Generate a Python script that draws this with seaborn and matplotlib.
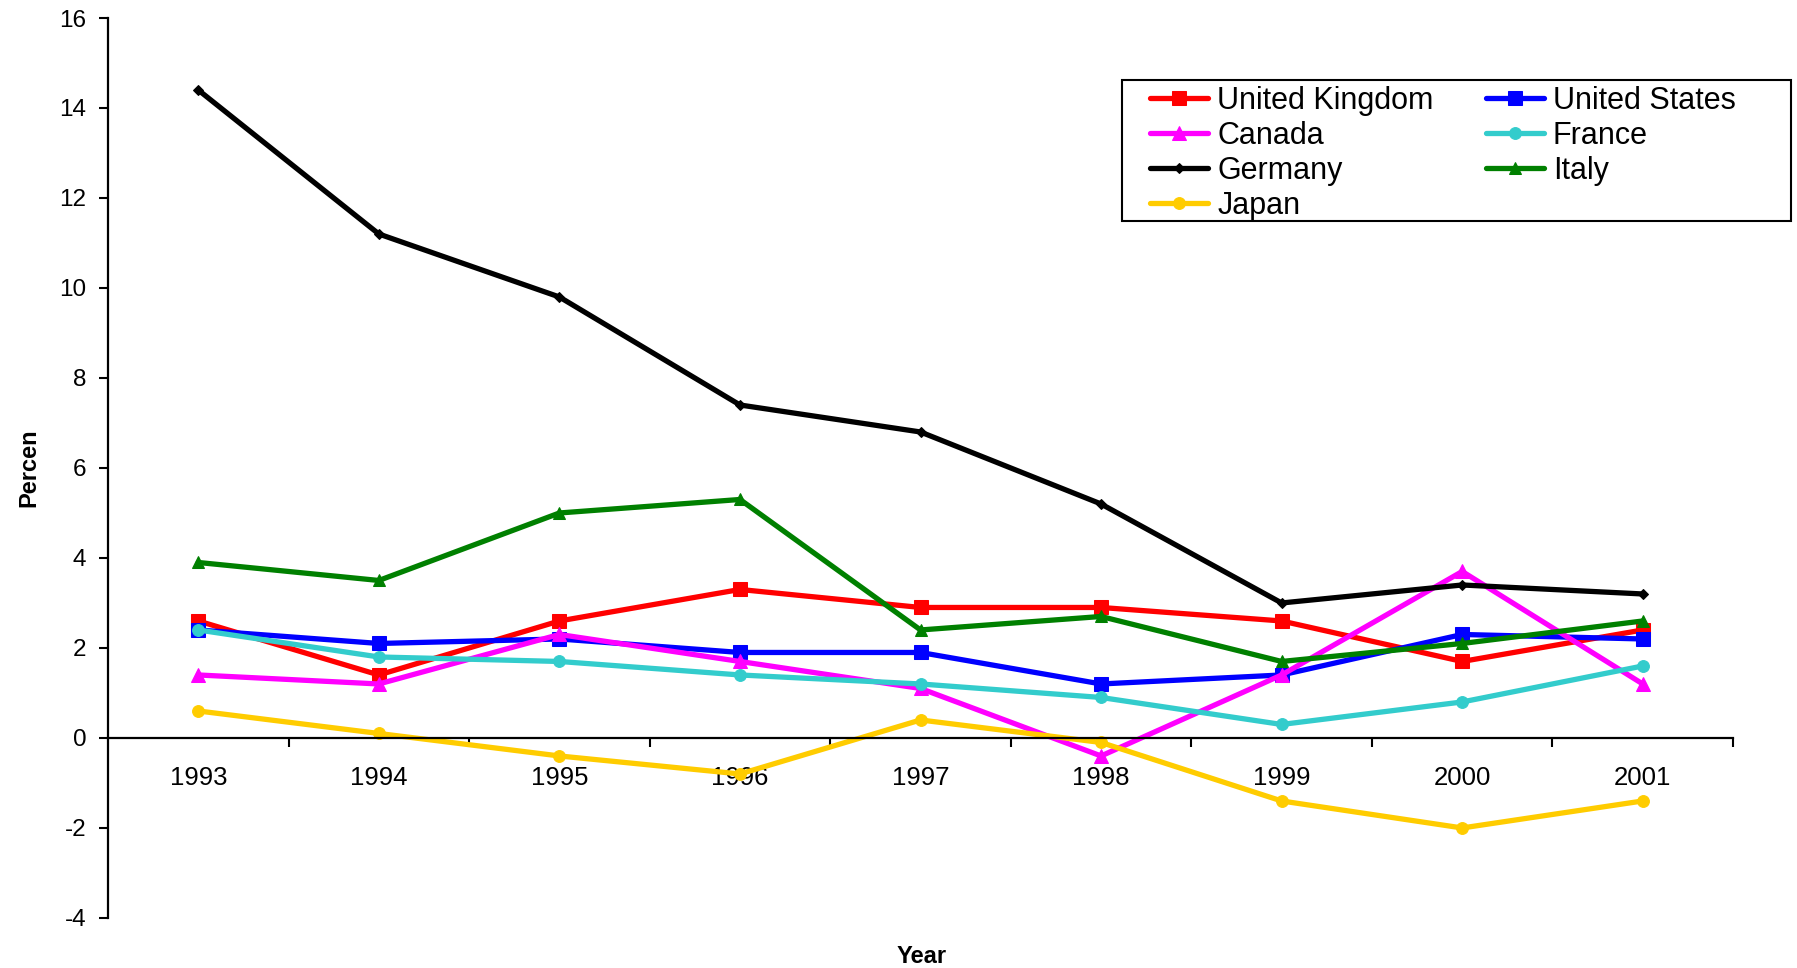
import matplotlib
matplotlib.use("Agg")
import matplotlib.pyplot as plt
from matplotlib.patches import Rectangle
import numpy as np
import pandas as pd
import seaborn as sns

# Annual values per country, in percent
years = ["1993", "1994", "1995", "1996", "1997", "1998", "1999", "2000", "2001"]
united_kingdom = [2.6, 1.4, 2.6, 3.3, 2.9, 2.9, 2.6, 1.7, 2.4]
united_states = [2.4, 2.1, 2.2, 1.9, 1.9, 1.2, 1.4, 2.3, 2.2]
canada = [1.4, 1.2, 2.3, 1.7, 1.1, -0.4, 1.4, 3.7, 1.2]
france = [2.4, 1.8, 1.7, 1.4, 1.2, 0.9, 0.3, 0.8, 1.6]
germany = [14.4, 11.2, 9.8, 7.4, 6.8, 5.2, 3.0, 3.4, 3.2]
italy = [3.9, 3.5, 5.0, 5.3, 2.4, 2.7, 1.7, 2.1, 2.6]
japan = [0.6, 0.1, -0.4, -0.8, 0.4, -0.1, -1.4, -2.0, -1.4]

series = {
    "United Kingdom": united_kingdom,
    "United States": united_states,
    "Canada": canada,
    "France": france,
    "Germany": germany,
    "Italy": italy,
    "Japan": japan,
}

styles = {
    "United Kingdom": dict(color="#FF0000", marker="s", markersize=10),
    "United States": dict(color="#0000FF", marker="s", markersize=10),
    "Canada": dict(color="#FF00FF", marker="^", markersize=10),
    "France": dict(color="#33CCCC", marker="o", markersize=8.5),
    "Germany": dict(color="#000000", marker="D", markersize=5.5),
    "Italy": dict(color="#008000", marker="^", markersize=9),
    "Japan": dict(color="#FFCC00", marker="o", markersize=8.5),
}

rows = []
for name, vals in series.items():
    for i, v in enumerate(vals):
        rows.append({"pos": i, "year": years[i], "value": v, "country": name})
df = pd.DataFrame(rows)

sns.set_theme(style="white")
plt.rcParams["font.family"] = ["Liberation Sans", "DejaVu Sans"]
plt.rcParams["axes.unicode_minus"] = False
plt.rcParams["text.color"] = "black"
plt.rcParams["axes.labelcolor"] = "black"
plt.rcParams["xtick.color"] = "black"
plt.rcParams["ytick.color"] = "black"

fig = plt.figure(figsize=(17.97, 9.68), dpi=100)
ax = fig.add_axes([0.0601, 0.0517, 0.9043, 0.9297])

for name in series:
    st = styles[name]
    sns.lineplot(
        data=df[df["country"] == name], x="pos", y="value", ax=ax,
        color=st["color"], marker=st["marker"], markersize=st["markersize"],
        markeredgecolor=st["color"], linewidth=3.8, label=name,
        errorbar=None, sort=False,
    )

ax.set_xlim(-0.5, len(years) - 0.5)
ax.set_ylim(-4, 16)
ax.set_yticks(np.arange(-4, 17, 2))

# Category labels centred between boundary tick marks
ax.set_xticks(range(len(years)))
ax.set_xticklabels(years)
ax.set_xticks(np.arange(0.5, len(years), 1.0), minor=True)
ax.tick_params(axis="x", which="major", length=0, pad=20, labelsize=18.5,
               labelcolor="black")
ax.tick_params(axis="x", which="minor", bottom=True, direction="out",
               length=6.5, width=1.5, color="black")
ax.tick_params(axis="y", which="major", left=True, direction="out",
               length=6.5, width=1.5, color="black", pad=9, labelsize=17.5,
               labelcolor="black")

ax.spines["top"].set_visible(False)
ax.spines["right"].set_visible(False)
ax.spines["bottom"].set_position(("data", 0))
for s in ("left", "bottom"):
    ax.spines[s].set_color("black")
    ax.spines[s].set_linewidth(1.6)

ax.set_xlabel("")
ax.set_ylabel("Percen", fontsize=17, fontweight="bold", labelpad=14,
              color="black")
fig.text(0.513, 0.0115, "Year", fontsize=17, fontweight="bold",
         ha="center", va="center", color="black")

handles, labels = ax.get_legend_handles_labels()
order = ["United Kingdom", "Canada", "Germany", "Japan",
         "United States", "France", "Italy"]
hmap = dict(zip(labels, handles))
leg = ax.legend(
    [hmap[k] for k in order], order, ncol=2, loc="upper left",
    bbox_to_anchor=(0.640, 0.911), bbox_transform=fig.transFigure,
    fontsize=22, frameon=False, handlelength=1.9, handletextpad=0.3,
    columnspacing=1.7, labelspacing=0.16, borderpad=0.0,
    borderaxespad=0, labelcolor="black",
)

# Legend border
fig.patches.append(Rectangle((0.6244, 0.7717), 0.3723, 0.1457,
                             transform=fig.transFigure, fill=False,
                             edgecolor="black", linewidth=1.5))

fig.savefig("out.png", dpi=100)
